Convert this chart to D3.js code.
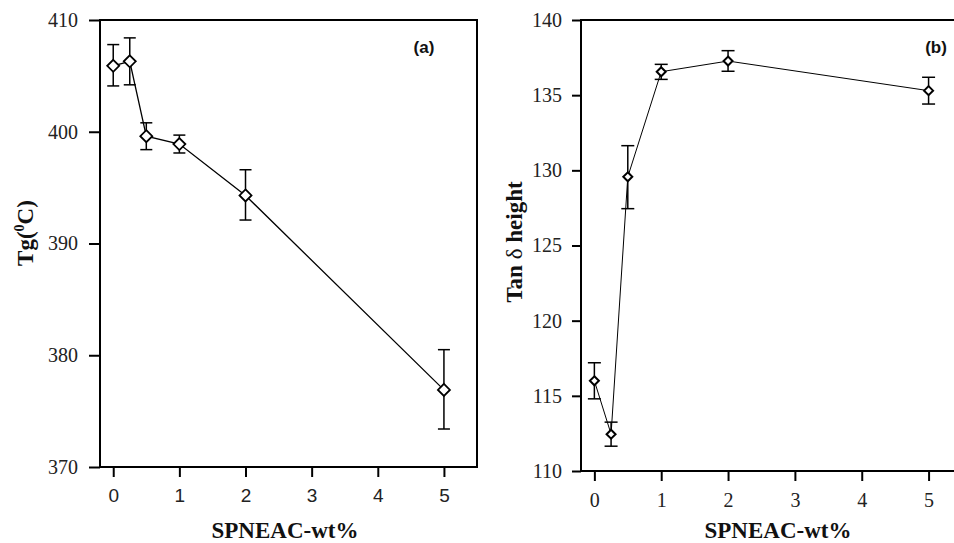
<!DOCTYPE html>
<html>
<head>
<meta charset="utf-8">
<script src="https://cdn.jsdelivr.net/npm/d3@7/dist/d3.min.js"></script>
<style>
  html, body { margin: 0; padding: 0; background: #fff; }
  svg { display: block; }
</style>
</head>
<body>
<svg id="chart" width="954" height="543"></svg>
<script>
// ---- data ----
const xValues = [0, 0.25, 0.5, 1, 2, 5];
const xTicks = [0, 1, 2, 3, 4, 5];

const tgValues = [405.9, 406.3, 399.6, 398.9, 394.3, 376.9];
const tgUpper  = [407.8, 408.4, 400.8, 399.7, 396.6, 380.5];
const tgLower  = [404.1, 404.2, 398.4, 398.1, 392.1, 373.4];
const tgTicks  = [370, 380, 390, 400, 410];

const tanValues = [116.0, 112.45, 129.57, 136.56, 137.27, 135.3];
const tanUpper  = [117.2, 113.25, 131.64, 137.05, 137.96, 136.19];
const tanLower  = [114.8, 111.65, 127.45, 136.05, 136.59, 134.41];
const tanTicks  = [110, 115, 120, 125, 130, 135, 140];

const svg = d3.select("#chart");
const SERIF = "'Liberation Serif','Times New Roman',serif";
const SANS = "'Liberation Sans',Arial,sans-serif";

function panel(cfg) {
  const x = d3.scaleLinear().domain([-0.2, 5.5]).range([cfg.left, cfg.right]);
  const y = d3.scaleLinear().domain(cfg.yDomain).range([cfg.bottom, cfg.top]);
  const g = svg.append("g");

  // frame
  g.append("rect")
    .attr("x", cfg.left).attr("y", cfg.top)
    .attr("width", cfg.right - cfg.left).attr("height", cfg.bottom - cfg.top)
    .attr("fill", "none").attr("stroke", "#000").attr("stroke-width", 2);

  // y axis
  const ya = g.append("g").attr("transform", `translate(${cfg.left},0)`)
    .call(d3.axisLeft(y).tickValues(cfg.yTicks).tickSize(cfg.yTickLen).tickPadding(cfg.yPad).tickFormat(d3.format("d")));
  ya.select(".domain").remove();
  ya.selectAll(".tick line").attr("stroke", "#000").attr("stroke-width", 2);
  ya.selectAll(".tick text").attr("font-family", SERIF).attr("font-size", cfg.yFont).attr("fill", "#222");

  // x axis
  const xa = g.append("g").attr("transform", `translate(0,${cfg.bottom})`)
    .call(d3.axisBottom(x).tickValues(xTicks).tickSize(cfg.xTickLen).tickPadding(cfg.xPad).tickFormat(d3.format("d")));
  xa.select(".domain").remove();
  xa.selectAll(".tick line").attr("stroke", "#000").attr("stroke-width", 2);
  xa.selectAll(".tick text").attr("font-family", cfg.xFontFamily).attr("font-size", cfg.xFont).attr("fill", "#222");

  // line
  const pts = xValues.map((v, i) => [v, cfg.values[i]]);
  g.append("path")
    .attr("d", d3.line().x(d => x(d[0])).y(d => y(d[1]))(pts))
    .attr("fill", "none").attr("stroke", "#000").attr("stroke-width", cfg.lineW);

  // error bars
  const eb = g.append("g").attr("stroke", "#000").attr("stroke-width", 1.5);
  xValues.forEach((v, i) => {
    const cx = x(v);
    eb.append("line").attr("x1", cx).attr("x2", cx).attr("y1", y(cfg.upper[i])).attr("y2", y(cfg.lower[i]));
    eb.append("line").attr("x1", cx - cfg.cap).attr("x2", cx + cfg.cap).attr("y1", y(cfg.upper[i])).attr("y2", y(cfg.upper[i]));
    eb.append("line").attr("x1", cx - cfg.cap).attr("x2", cx + cfg.cap).attr("y1", y(cfg.lower[i])).attr("y2", y(cfg.lower[i]));
  });

  // markers
  const r = cfg.markerR;
  g.selectAll(".mk").data(pts).enter().append("path")
    .attr("transform", d => `translate(${x(d[0])},${y(d[1])})`)
    .attr("d", `M0,${-r}L${r},0L0,${r}L${-r},0Z`)
    .attr("fill", "#fff").attr("stroke", "#000").attr("stroke-width", cfg.markerW);

  // panel label
  g.append("text").attr("x", cfg.labelX).attr("y", cfg.labelY)
    .attr("font-family", SANS).attr("font-weight", "bold").attr("font-size", 17)
    .attr("text-anchor", "middle").attr("fill", "#111").text(cfg.label);

  // x title
  g.append("text").attr("x", cfg.xTitleX).attr("y", 538)
    .attr("font-family", SERIF).attr("font-weight", "bold").attr("font-size", 23)
    .attr("text-anchor", "middle").attr("fill", "#111").text("SPNEAC-wt%");

  return { g, x, y };
}

const a = panel({
  left: 100, right: 477, top: 20, bottom: 467,
  yDomain: [370, 410], yTicks: tgTicks, yTickLen: 11, yPad: 11, yFont: 20,
  xTickLen: 10, xPad: 12, xFont: 19, xFontFamily: SANS,
  values: tgValues, upper: tgUpper, lower: tgLower,
  lineW: 1.3, cap: 6, markerR: 6, markerW: 1.8,
  label: "(a)", labelX: 424, labelY: 53, xTitleX: 285
});

const b = panel({
  left: 581, right: 962, top: 20, bottom: 471,
  yDomain: [110, 140], yTicks: tanTicks, yTickLen: 9, yPad: 10, yFont: 20,
  xTickLen: 10, xPad: 12, xFont: 20, xFontFamily: SERIF,
  values: tanValues, upper: tanUpper, lower: tanLower,
  lineW: 1, cap: 6.5, markerR: 4.5, markerW: 2,
  label: "(b)", labelX: 936, labelY: 53, xTitleX: 778
});

// y titles
const ta = svg.append("text")
  .attr("transform", "translate(33,233) rotate(-90)")
  .attr("font-family", SERIF).attr("font-weight", "bold").attr("font-size", 23)
  .attr("text-anchor", "middle").attr("fill", "#111");
ta.append("tspan").text("Tg(");
ta.append("tspan").attr("font-size", 14).attr("dy", -9).text("0");
ta.append("tspan").attr("dy", 9).text("C)");

const tb = svg.append("text")
  .attr("transform", "translate(522,242) rotate(-90)")
  .attr("font-family", SERIF).attr("font-weight", "bold").attr("font-size", 23)
  .attr("text-anchor", "middle").attr("fill", "#111");
tb.append("tspan").text("Tan ");
tb.append("tspan").attr("font-weight", "normal").text("δ");
tb.append("tspan").text(" height");
</script>
</body>
</html>
